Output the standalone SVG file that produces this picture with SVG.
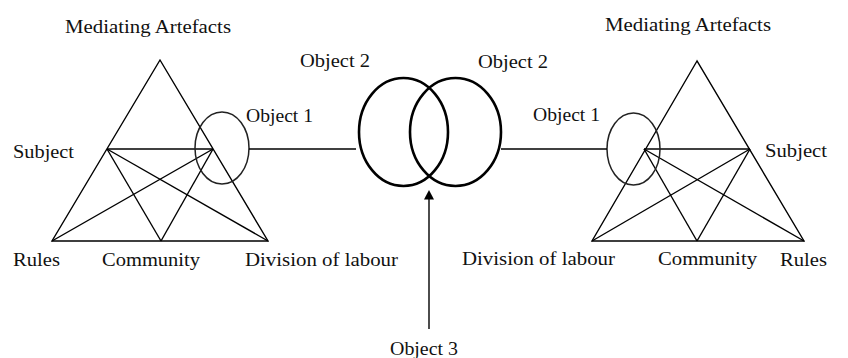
<svg xmlns="http://www.w3.org/2000/svg" width="848" height="358" viewBox="0 0 848 358">
<defs>
<style>
text{font-family:"Liberation Serif","Times New Roman",serif;font-size:18px;fill:#111}
.ln{stroke:#000;stroke-width:1.4;fill:none}
.el{stroke:#222;stroke-width:1.5;fill:none}
.ci{stroke:#000;stroke-width:2.6;fill:none}
</style>
</defs>
<rect width="848" height="358" fill="#fff"/>
<g id="left-system">
<polygon class="ln" points="160,60 52,241 268,241"/>
<line class="ln" x1="107" y1="149" x2="213" y2="149"/>
<line class="ln" x1="107" y1="149" x2="161" y2="241"/>
<line class="ln" x1="107" y1="149" x2="268" y2="241"/>
<line class="ln" x1="213" y1="149" x2="52" y2="241"/>
<line class="ln" x1="213" y1="149" x2="161" y2="241"/>
<ellipse class="el" cx="222" cy="148" rx="27" ry="36"/>
<text x="65" y="33" textLength="166" lengthAdjust="spacingAndGlyphs">Mediating Artefacts</text>
<text x="13" y="158" textLength="61" lengthAdjust="spacingAndGlyphs">Subject</text>
<text x="246" y="122" textLength="67" lengthAdjust="spacingAndGlyphs">Object 1</text>
<text x="13" y="266" textLength="47" lengthAdjust="spacingAndGlyphs">Rules</text>
<text x="102" y="266" textLength="98" lengthAdjust="spacingAndGlyphs">Community</text>
<text x="245" y="266" textLength="153" lengthAdjust="spacingAndGlyphs">Division of labour</text>
</g>
<g id="right-system">
<polygon class="ln" points="697,61 592,241 804,241"/>
<line class="ln" x1="644" y1="149" x2="750" y2="149"/>
<line class="ln" x1="644" y1="149" x2="697" y2="241"/>
<line class="ln" x1="644" y1="149" x2="804" y2="241"/>
<line class="ln" x1="750" y1="149" x2="592" y2="241"/>
<line class="ln" x1="750" y1="149" x2="697" y2="241"/>
<ellipse class="el" cx="633.5" cy="149" rx="26.5" ry="36"/>
<text x="605" y="31" textLength="166" lengthAdjust="spacingAndGlyphs">Mediating Artefacts</text>
<text x="765" y="157" textLength="62" lengthAdjust="spacingAndGlyphs">Subject</text>
<text x="533" y="121" textLength="67" lengthAdjust="spacingAndGlyphs">Object 1</text>
<text x="462" y="265" textLength="153" lengthAdjust="spacingAndGlyphs">Division of labour</text>
<text x="658" y="265" textLength="99" lengthAdjust="spacingAndGlyphs">Community</text>
<text x="780" y="266" textLength="47" lengthAdjust="spacingAndGlyphs">Rules</text>
</g>
<g id="object2-left">
<ellipse class="ci" cx="403.5" cy="132" rx="44.5" ry="54"/>
<text x="300" y="67" textLength="70" lengthAdjust="spacingAndGlyphs">Object 2</text>
</g>
<g id="object2-right">
<ellipse class="ci" cx="455.5" cy="132" rx="45.5" ry="54"/>
<text x="478" y="68" textLength="70" lengthAdjust="spacingAndGlyphs">Object 2</text>
</g>
<g id="object3">
<text x="390" y="355" textLength="68" lengthAdjust="spacingAndGlyphs">Object 3</text>
</g>
<g id="connectors">
<line class="ln" x1="249" y1="149" x2="356" y2="149"/>
<line class="ln" x1="501" y1="149" x2="607" y2="149"/>
<line class="ln" x1="429" y1="198" x2="429" y2="329"/>
<polygon points="429,190 424,199.5 434,199.5" fill="#000"/>
</g>
</svg>
